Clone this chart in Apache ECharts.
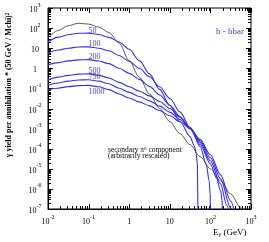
<!DOCTYPE html>
<html><head><meta charset="utf-8">
<script src="https://cdn.jsdelivr.net/npm/echarts@6/dist/echarts.min.js"></script>
<style>html,body{margin:0;padding:0;background:#fff}#c{width:269px;height:242px}</style>
</head><body><div id="c"></div>
<script>
// ---- data ----
const masses = [50, 100, 200, 500, 750, 1000];
const energy = [0.01, 0.0178, 0.0316, 0.0562, 0.1, 0.178, 0.316, 0.562, 1, 1.78, 3.16, 5.62, 10, 17.8, 31.6];

const y50   = [20.4, 35.5, 46.8, 55.0, 56.2, 47.9, 34.7, 20.4, 8.91, 2.40, 0.525, 0.0891, 0.01413, 2.24e-3, 3.98e-4];
const tailE50 = [39.8, 44.7, 47.9, 50];
const tailY50 = [1.41e-4, 5.62e-5, 1.58e-5, 1e-9];

const y100  = [5.75, 8.13, 10.0, 11.5, 11.7, 10.0, 7.41, 4.37, 2.24, 1.0, 0.380, 0.120, 0.0316, 6.76e-3, 1.12e-3];
const tailE100 = [56.2, 79.4, 93.3, 98.9, 100];
const tailY100 = [1.26e-4, 1.58e-5, 2.51e-6, 5.01e-7, 1e-9];

const y200  = [1.45, 1.91, 2.34, 2.63, 2.69, 2.29, 1.70, 1.0, 0.562, 0.282, 0.126, 0.0468, 0.0145, 3.98e-3, 9.55e-4];
const tailE200 = [56.2, 100, 141, 178, 195, 200];
const tailY200 = [1.58e-4, 1.78e-5, 3.55e-6, 7.94e-7, 2.51e-7, 1e-9];

const y500  = [0.263, 0.363, 0.447, 0.513, 0.525, 0.447, 0.331, 0.200, 0.120, 0.0741, 0.0427, 0.0224, 0.0100, 3.63e-3, 1.07e-3];
const tailE500 = [56.2, 100, 178, 251, 316];
const tailY500 = [2.0e-4, 2.51e-5, 1.78e-6, 1.58e-7, 2.51e-8];

const y750  = [0.145, 0.186, 0.229, 0.263, 0.269, 0.229, 0.170, 0.102, 0.0631, 0.0398, 0.0240, 0.0132, 6.61e-3, 2.82e-3, 1.05e-3];
const tailE750 = [56.2, 100, 178, 316, 398];
const tailY750 = [2.40e-4, 3.55e-5, 3.16e-6, 1.12e-7, 2.51e-8];

const y1000 = [0.0891, 0.102, 0.123, 0.138, 0.141, 0.120, 0.0871, 0.0525, 0.0331, 0.0214, 0.0135, 7.94e-3, 4.37e-3, 2.19e-3, 1.0e-3];
const tailE1000 = [56.2, 100, 178, 316, 398];
const tailY1000 = [2.82e-4, 5.01e-5, 5.01e-6, 2.51e-7, 6.31e-8];

const yPi0 = [31.6, 75.9, 132, 174, 158, 112, 60.3, 18.2, 2.40, 0.355, 0.0525, 0.0100, 2.24e-3, 5.62e-4, 1.58e-4];
const tailEPi0 = [56.2, 100, 178, 316, 562, 1000];
const tailYPi0 = [3.98e-5, 1.0e-5, 2.51e-6, 5.62e-7, 1.12e-7, 2.51e-8];

const xMin = 0.01, xMax = 1000, yMin = 1e-7, yMax = 1e3;

// ---- build ----
const blueVals = [y50, y100, y200, y500, y750, y1000];
const blueTailE = [tailE50, tailE100, tailE200, tailE500, tailE750, tailE1000];
const blueTailY = [tailY50, tailY100, tailY200, tailY500, tailY750, tailY1000];
const labelDy = [-2, -2.5, -3, -3.5, -3, 6.5];

function pairs(ys, te, ty) {
  return energy.map((e, i) => [e, ys[i]]).concat(te.map((e, i) => [e, ty[i]]));
}
const serif = 'Liberation Serif, Times New Roman, serif';
const BLUE = '#3a30e0';
const LBL = '#4b3cc9';

const series = [];
masses.forEach((m, k) => {
  series.push({
    type: 'line', name: String(m), data: pairs(blueVals[k], blueTailE[k], blueTailY[k]),
    showSymbol: false, smooth: 0.3, smoothMonotone: 'x', clip: true, silent: true,
    lineStyle: { color: BLUE, width: 1.1 },
    markPoint: {
      symbol: 'circle', symbolSize: 0, silent: true, animation: false,
      data: [{ coord: [energy[4], blueVals[k][4]] }],
      label: { show: true, formatter: String(m), position: 'inside', align: 'left', verticalAlign: 'middle',
        offset: [0, labelDy[k]], color: LBL, fontFamily: serif, fontSize: 8 }
    }
  });
});
series.push({
  type: 'line', name: 'pi0', data: pairs(yPi0, tailEPi0, tailYPi0),
  showSymbol: false, smooth: 0.3, smoothMonotone: 'x', clip: true, silent: true,
  lineStyle: { color: '#333', width: 0.8 }
});

// tick marks (log minor ticks on all four sides)
const xTicks = [];
for (let k = -2; k <= 2; k++) for (let m = 1; m <= 9; m++) xTicks.push([m * Math.pow(10, k), yMin, m === 1 ? 1 : 0]);
xTicks.push([xMax, yMin, 1]);
const yTicks = [];
for (let k = -7; k <= 2; k++) for (let m = 1; m <= 9; m++) yTicks.push([xMin, m * Math.pow(10, k), m === 1 ? 1 : 0]);
yTicks.push([xMin, yMax, 1]);

series.push({
  type: 'custom', silent: true, data: xTicks, encode: { x: 0, y: 1 },
  renderItem: function (params, api) {
    const v = api.value(0), major = api.value(2);
    const b = api.coord([v, yMin]), t = api.coord([v, yMax]);
    const L = major ? 5 : 3;
    const x = Math.round(b[0]) + 0.5;
    return { type: 'group', children: [
      { type: 'line', shape: { x1: x, y1: b[1], x2: x, y2: b[1] - L }, style: { stroke: '#000', lineWidth: 1 } },
      { type: 'line', shape: { x1: x, y1: t[1], x2: x, y2: t[1] + L }, style: { stroke: '#000', lineWidth: 1 } }
    ] };
  }
});
series.push({
  type: 'custom', silent: true, data: yTicks, encode: { x: 0, y: 1 },
  renderItem: function (params, api) {
    const v = api.value(1), major = api.value(2);
    const l = api.coord([xMin, v]), r = api.coord([xMax, v]);
    const L = major ? 5 : 3;
    const y = Math.round(l[1]) + 0.5;
    return { type: 'group', children: [
      { type: 'line', shape: { x1: l[0], y1: y, x2: l[0] + L, y2: y }, style: { stroke: '#000', lineWidth: 1 } },
      { type: 'line', shape: { x1: r[0], y1: y, x2: r[0] - L, y2: y }, style: { stroke: '#000', lineWidth: 1 } }
    ] };
  }
});

function fmt(v) {
  const e = Math.round(Math.log10(v));
  if (e === 0) return '{b|1}';
  if (e === 1) return '{b|10}';
  return '{b|10}{s|' + e + '}';
}
const richAx = {
  b: { fontFamily: serif, fontSize: 8, lineHeight: 12, color: '#000', verticalAlign: 'bottom' },
  s: { fontFamily: serif, fontSize: 6, lineHeight: 7, color: '#000', verticalAlign: 'top' }
};

const axisCommon = {
  type: 'log', logBase: 10, interval: 1,
  axisLine: { show: true, onZero: false, lineStyle: { color: '#000', width: 1 } },
  axisTick: { show: false }, minorTick: { show: false }, splitLine: { show: false },
};

const option = {
  animation: false,
  grid: { left: 48, right: 18, top: 8, bottom: 33, show: true, borderColor: '#000', borderWidth: 1 },
  xAxis: Object.assign({}, axisCommon, { min: xMin, max: xMax,
    axisLabel: { margin: 5, showMinLabel: true, showMaxLabel: true, hideOverlap: false, interval: 0, formatter: fmt, rich: richAx } }),
  yAxis: Object.assign({}, axisCommon, { min: yMin, max: yMax,
    axisLabel: { margin: 13, align: 'center', showMinLabel: true, showMaxLabel: true, hideOverlap: false, interval: 0, formatter: fmt, rich: richAx } }),
  series: series,
  graphic: [
    { type: 'text', x: 9, y: 85, rotation: Math.PI / 2, silent: true,
      style: { text: 'γ yield per annihilation * (50 GeV / Mchi)²', fontFamily: serif, fontSize: 8, fontWeight: 'bold',
        fill: '#000', align: 'center', verticalAlign: 'middle' } },
    { type: 'text', x: 213, y: 232, silent: true,
      style: { text: '{e|E}{g|γ}{e| (GeV)}', align: 'left', verticalAlign: 'middle',
        rich: { e: { fontFamily: serif, fontSize: 9, lineHeight: 11, verticalAlign: 'bottom', fill: '#000' },
                g: { fontFamily: serif, fontSize: 6, lineHeight: 6, verticalAlign: 'bottom', fill: '#000' } } } },
    { type: 'text', x: 244, y: 32, silent: true,
      style: { text: 'b - bbar', fontFamily: serif, fontSize: 9, fill: LBL, align: 'right', verticalAlign: 'middle' } },
    { type: 'text', x: 108, y: 150, silent: true,
      style: { text: '{t|secondary π}{s|0}{t| component}', align: 'left', verticalAlign: 'middle',
        rich: { t: { fontFamily: serif, fontSize: 7.5, lineHeight: 8, verticalAlign: 'bottom', fill: '#000' },
                s: { fontFamily: serif, fontSize: 5, lineHeight: 5, verticalAlign: 'top', fill: '#000' } } } },
    { type: 'text', x: 108, y: 156, silent: true,
      style: { text: '(arbitrarily rescaled)', fontFamily: serif, fontSize: 7.5, fill: '#000', align: 'left', verticalAlign: 'middle' } }
  ]
};
const chart = echarts.init(document.getElementById('c'), null, { renderer: 'canvas' });
chart.setOption(option);
</script></body></html>
